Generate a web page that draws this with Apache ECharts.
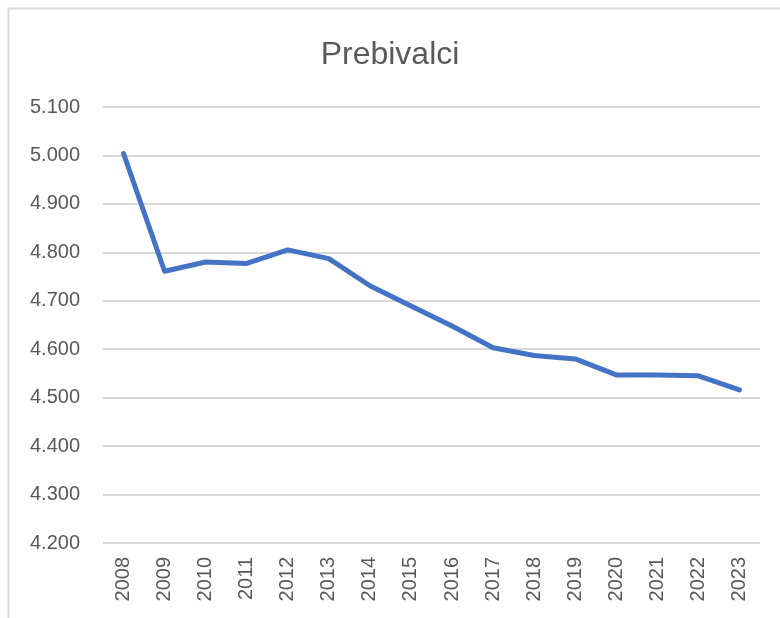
<!DOCTYPE html>
<html>
<head>
<meta charset="utf-8">
<script src="https://cdn.jsdelivr.net/npm/echarts@6/dist/echarts.min.js"></script>
<style>
  html, body { margin: 0; padding: 0; background: #fff; }
  #chart { width: 780px; height: 618px; }
</style>
</head>
<body>
<div id="chart"></div>
<script>
const years = ['2008', '2009', '2010', '2011', '2012', '2013', '2014', '2015',
  '2016', '2017', '2018', '2019', '2020', '2021', '2022', '2023']
const residents = [5004, 4761, 4780, 4777, 4805, 4787, 4731, 4689,
  4648, 4603, 4587, 4580, 4547, 4547, 4545, 4516]

const TEXT_COLOR = '#595959'
const GRID_COLOR = '#d9d9d9'
const FONT = '"Liberation Sans", Arial, sans-serif'

const chart = echarts.init(document.getElementById('chart'))

chart.setOption({
  animation: false,
  backgroundColor: '#fff',
  graphic: [{
    type: 'rect',
    shape: { x: 8.5, y: 8.5, width: 800, height: 700 },
    style: { fill: 'none', stroke: GRID_COLOR, lineWidth: 2 },
    silent: true
  }],
  title: {
    text: 'Prebivalci',
    left: 'center',
    top: 34,
    textStyle: { color: TEXT_COLOR, fontSize: 32, fontWeight: 'normal', fontFamily: FONT }
  },
  grid: {
    left: 103,
    right: 20,
    top: 107,
    bottom: 75
  },
  xAxis: {
    type: 'category',
    data: years,
    boundaryGap: true,
    axisLine: { show: false },
    axisTick: { show: false },
    axisLabel: {
      rotate: 90,
      margin: 14,
      color: TEXT_COLOR,
      fontSize: 20,
      fontFamily: FONT
    }
  },
  yAxis: {
    type: 'value',
    min: 4200,
    max: 5100,
    interval: 100,
    axisLine: { show: false },
    axisTick: { show: false },
    splitLine: { lineStyle: { color: GRID_COLOR, width: 2 } },
    axisLabel: {
      margin: 23,
      color: TEXT_COLOR,
      fontSize: 20,
      fontFamily: FONT,
      formatter: v => (v / 1000).toFixed(3).replace('.', '.')
    }
  },
  series: [{
    name: 'Prebivalci',
    type: 'line',
    data: residents,
    symbol: 'none',
    lineStyle: { color: '#4472C4', width: 5, cap: 'round', join: 'round' }
  }]
})
</script>
</body>
</html>
